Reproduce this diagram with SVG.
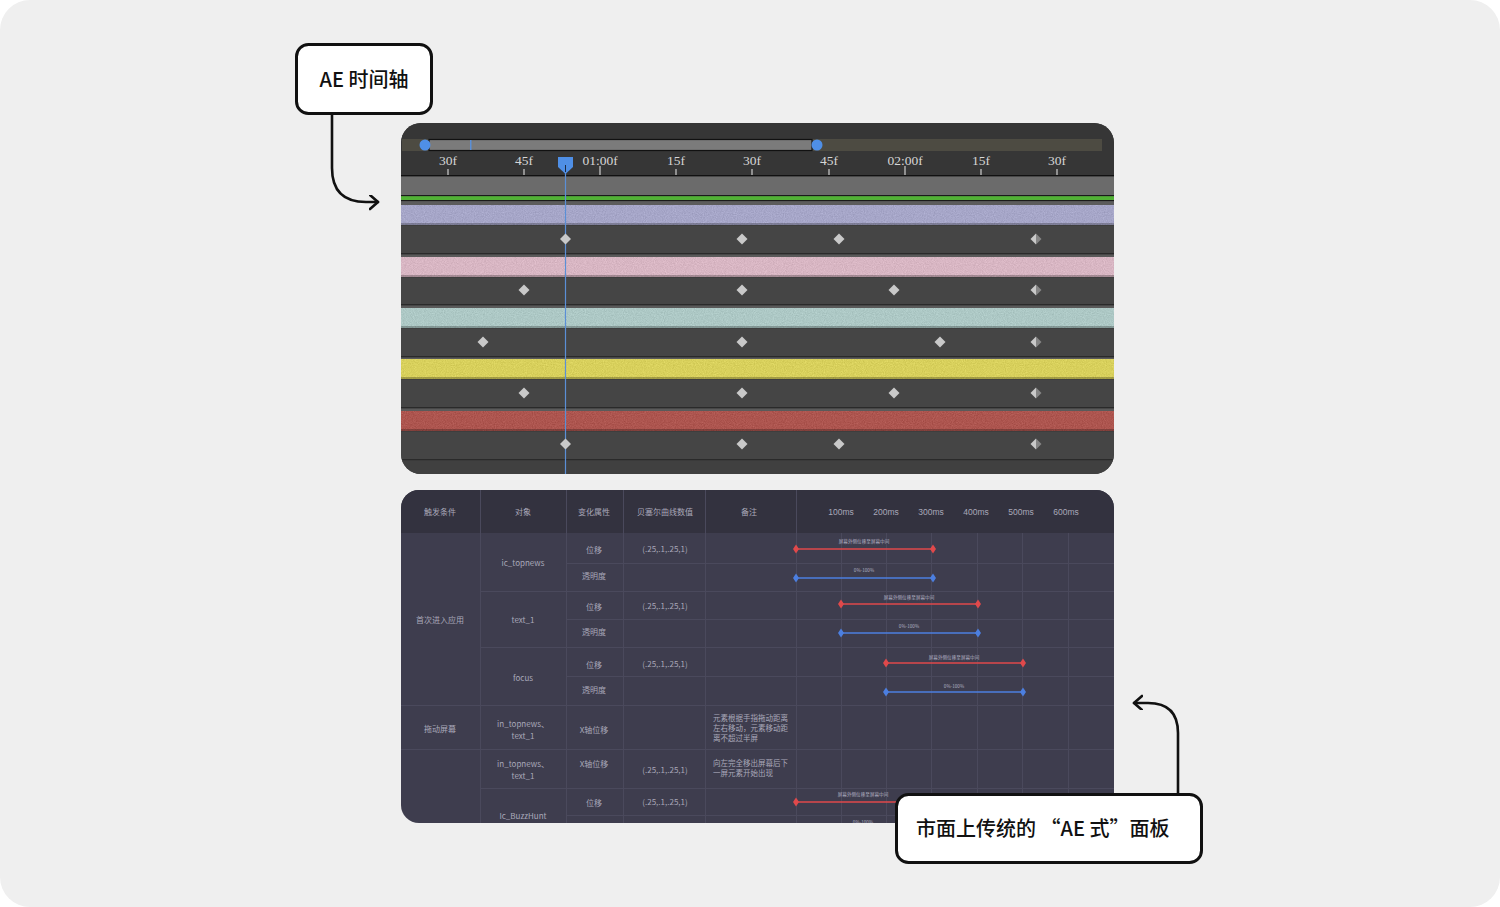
<svg xmlns="http://www.w3.org/2000/svg" width="1500" height="907" viewBox="0 0 1500 907">
<style>
.tl{font-family:"Liberation Serif","DejaVu Serif",serif;font-size:13.5px;fill:#d6d6d6;text-anchor:middle}
.tx{font-family:"Noto Sans CJK SC","Noto Sans",sans-serif;font-size:8px;fill:#a9a8b9;text-anchor:middle}
.txl{font-family:"Noto Sans CJK SC","Noto Sans",sans-serif;font-size:7.5px;fill:#a9a8b9}
.gl{font-family:"Noto Sans CJK SC","Noto Sans",sans-serif;font-size:4.6px;fill:#b3b2c2;text-anchor:middle}
.ms{font-family:"Liberation Sans","Noto Sans",sans-serif;font-size:8.5px;fill:#a9a8b9;text-anchor:middle}
.call{fill:#fff;stroke:#111;stroke-width:3}
.ctext{font-family:"Noto Sans CJK SC","Noto Sans",sans-serif;font-size:20px;font-weight:500;fill:#111}
.conn{fill:none;stroke:#111;stroke-width:2.6;stroke-linecap:round;stroke-linejoin:round}
.dk{fill:#454545}
.sep{fill:#2a2a2a}
.vg{stroke:#4a495c;stroke-width:1}
.hg{stroke:#4a495c;stroke-width:1}
.red{stroke:#e0494b;stroke-width:1.6}
.blue{stroke:#4c7fe0;stroke-width:1.6}
</style>
<defs>
<marker id="arr" markerWidth="12" markerHeight="16" refX="9" refY="7" orient="auto" markerUnits="userSpaceOnUse">
<path d="M1,0 L9,7 L1,14" fill="none" stroke="#111" stroke-width="2.6" stroke-linecap="round" stroke-linejoin="round"/>
</marker>
<path id="kd" d="M0,-5.5 L5.5,0 L0,5.5 L-5.5,0Z" fill="#c9c9c9"/>
<g id="kh"><path d="M0,-5.5 L0,5.5 L-5.5,0Z" fill="#c9c9c9"/><path d="M0,-5.5 L5.5,0 L0,5.5Z" fill="#858585"/></g>
<path id="rd" d="M0,-4.5 L3,0 L0,4.5 L-3,0Z" fill="#e0494b"/>
<path id="bd" d="M0,-4.5 L3,0 L0,4.5 L-3,0Z" fill="#4c7fe0"/>
<clipPath id="tlclip"><rect x="401" y="123" width="713" height="351" rx="20"/></clipPath>
<clipPath id="tbclip"><rect x="401" y="490" width="713" height="333" rx="18"/></clipPath>
<filter id="grain" x="0" y="0" width="100%" height="100%" color-interpolation-filters="sRGB">
<feTurbulence type="fractalNoise" baseFrequency="0.9" numOctaves="2" seed="4" result="t"/>
<feColorMatrix in="t" type="matrix" values="1 0 0 0 0  1 0 0 0 0  1 0 0 0 0  0 0 0 0 1" result="g"/>
<feComposite in="SourceGraphic" in2="g" operator="arithmetic" k1="0" k2="1" k3="0.14" k4="-0.07" result="m"/>
<feComposite in="m" in2="SourceGraphic" operator="in"/>
</filter>
</defs>
<rect width="1500" height="907" fill="#ffffff"/>
<rect width="1500" height="907" rx="30" fill="#efefef"/>

<g id="timeline" clip-path="url(#tlclip)">
<rect x="401" y="123" width="713" height="351" fill="#3e3e3e"/>
<rect x="401" y="123" width="713" height="53" fill="#363636"/>
<rect x="402" y="139" width="700" height="12" fill="#4d4b42"/>
<rect x="429" y="139.5" width="383" height="11" fill="#7b7b7b" stroke="#111" stroke-width="1.2"/>
<rect x="470" y="140" width="1.5" height="10" fill="#5b8fd6"/>
<circle cx="425" cy="145" r="5.5" fill="#4f8fe6"/>
<circle cx="817" cy="145" r="5.5" fill="#4f8fe6"/>
<g>
<text class="tl" x="448" y="165">30f</text>
<text class="tl" x="524" y="165">45f</text>
<text class="tl" x="600" y="165">01:00f</text>
<text class="tl" x="676" y="165">15f</text>
<text class="tl" x="752" y="165">30f</text>
<text class="tl" x="829" y="165">45f</text>
<text class="tl" x="905" y="165">02:00f</text>
<text class="tl" x="981" y="165">15f</text>
<text class="tl" x="1057" y="165">30f</text>
</g>
<g stroke="#cfcfcf" stroke-width="1.2">
<line x1="448" y1="169" x2="448" y2="175"/><line x1="524" y1="169" x2="524" y2="175"/>
<line x1="600" y1="166" x2="600" y2="175"/><line x1="676" y1="169" x2="676" y2="175"/>
<line x1="752" y1="169" x2="752" y2="175"/><line x1="829" y1="169" x2="829" y2="175"/>
<line x1="905" y1="166" x2="905" y2="175"/><line x1="981" y1="169" x2="981" y2="175"/>
<line x1="1057" y1="169" x2="1057" y2="175"/>
</g>
<rect x="401" y="175" width="713" height="1.5" fill="#111"/>
<rect x="401" y="176.5" width="713" height="18.5" fill="#6b6b6b"/>
<rect x="401" y="195" width="713" height="1.2" fill="#1a1a1a"/>
<rect x="401" y="196.2" width="713" height="3.8" fill="#52b236"/>
<rect x="401" y="200" width="713" height="1.2" fill="#1a1a1a"/>
<rect x="401" y="201.2" width="713" height="3.8" fill="#5c5c5c"/>

<rect x="401" y="205" width="713" height="20" fill="#a6a6c8" filter="url(#grain)"/>
<rect x="401" y="223" width="713" height="2" fill="#000" opacity="0.25"/>
<rect class="dk" x="401" y="226" width="713" height="27"/>
<rect class="sep" x="401" y="253" width="713" height="1.5"/>
<rect x="401" y="254.5" width="713" height="2.5" fill="#5a5a5a"/>

<rect x="401" y="257" width="713" height="20" fill="#d8b6c3" filter="url(#grain)"/>
<rect x="401" y="275" width="713" height="2" fill="#000" opacity="0.25"/>
<rect class="dk" x="401" y="278" width="713" height="26"/>
<rect class="sep" x="401" y="304" width="713" height="1.5"/>
<rect x="401" y="305.5" width="713" height="2.5" fill="#5a5a5a"/>

<rect x="401" y="308" width="713" height="20" fill="#adc8c5" filter="url(#grain)"/>
<rect x="401" y="326" width="713" height="2" fill="#000" opacity="0.25"/>
<rect class="dk" x="401" y="329" width="713" height="27"/>
<rect class="sep" x="401" y="356" width="713" height="1.5"/>
<rect x="401" y="357.5" width="713" height="1.5" fill="#5a5a5a"/>

<rect x="401" y="359" width="713" height="20" fill="#d8d05c" filter="url(#grain)"/>
<rect x="401" y="377" width="713" height="2" fill="#000" opacity="0.25"/>
<rect class="dk" x="401" y="380" width="713" height="27"/>
<rect class="sep" x="401" y="407" width="713" height="1.5"/>
<rect x="401" y="408.5" width="713" height="2.5" fill="#5a5a5a"/>

<rect x="401" y="411" width="713" height="20" fill="#ad554f" filter="url(#grain)"/>
<rect x="401" y="429" width="713" height="2" fill="#000" opacity="0.25"/>
<rect class="dk" x="401" y="432" width="713" height="27"/>
<rect class="sep" x="401" y="459" width="713" height="1.5"/>
<rect x="401" y="460.5" width="713" height="14" fill="#404040"/>

<line x1="565.5" y1="165" x2="565.5" y2="474" stroke="#5b8fd6" stroke-width="1.2"/>
<path d="M558,157 L573,157 L573,167 L565.5,174 L558,167Z" fill="#4f8fe6"/>
<line x1="565.5" y1="165" x2="565.5" y2="172" stroke="#1a2a44" stroke-width="1"/>

<use href="#kd" x="565.5" y="239"/><use href="#kd" x="742" y="239"/><use href="#kd" x="839" y="239"/><use href="#kh" x="1036" y="239"/>
<use href="#kd" x="524" y="290"/><use href="#kd" x="742" y="290"/><use href="#kd" x="894" y="290"/><use href="#kh" x="1036" y="290"/>
<use href="#kd" x="483" y="342"/><use href="#kd" x="742" y="342"/><use href="#kd" x="940" y="342"/><use href="#kh" x="1036" y="342"/>
<use href="#kd" x="524" y="393"/><use href="#kd" x="742" y="393"/><use href="#kd" x="894" y="393"/><use href="#kh" x="1036" y="393"/>
<use href="#kd" x="565.5" y="444"/><use href="#kd" x="742" y="444"/><use href="#kd" x="839" y="444"/><use href="#kh" x="1036" y="444"/>
</g>

<g id="table" clip-path="url(#tbclip)">
<rect x="401" y="490" width="713" height="333" fill="#3e3d4e"/>
<rect x="401" y="490" width="713" height="43" fill="#33323f"/>
<g class="vg">
<line x1="480.5" y1="490" x2="480.5" y2="823"/>
<line x1="566.5" y1="490" x2="566.5" y2="823"/>
<line x1="623.5" y1="490" x2="623.5" y2="823"/>
<line x1="705.5" y1="490" x2="705.5" y2="823"/>
<line x1="796.5" y1="490" x2="796.5" y2="823"/>
<line x1="841.5" y1="533" x2="841.5" y2="823"/>
<line x1="886.5" y1="533" x2="886.5" y2="823"/>
<line x1="931.5" y1="533" x2="931.5" y2="823"/>
<line x1="977.5" y1="533" x2="977.5" y2="823"/>
<line x1="1022.5" y1="533" x2="1022.5" y2="823"/>
<line x1="1068.5" y1="533" x2="1068.5" y2="823"/>
</g>
<g class="hg">
<line x1="566" y1="563.5" x2="1114" y2="563.5"/>
<line x1="480" y1="591.5" x2="1114" y2="591.5"/>
<line x1="566" y1="619.5" x2="1114" y2="619.5"/>
<line x1="480" y1="647.5" x2="1114" y2="647.5"/>
<line x1="566" y1="676.5" x2="1114" y2="676.5"/>
<line x1="401" y1="705.5" x2="1114" y2="705.5"/>
<line x1="401" y1="749.5" x2="1114" y2="749.5"/>
<line x1="480" y1="788.5" x2="1114" y2="788.5"/>
<line x1="566" y1="815.5" x2="1114" y2="815.5"/>
</g>
<text class="tx" x="440" y="515">触发条件</text>
<text class="tx" x="523" y="515">对象</text>
<text class="tx" x="594" y="515">变化属性</text>
<text class="tx" x="665" y="515">贝塞尔曲线数值</text>
<text class="tx" x="749" y="515">备注</text>
<text class="ms" x="841" y="515">100ms</text>
<text class="ms" x="886" y="515">200ms</text>
<text class="ms" x="931" y="515">300ms</text>
<text class="ms" x="976" y="515">400ms</text>
<text class="ms" x="1021" y="515">500ms</text>
<text class="ms" x="1066" y="515">600ms</text>

<text class="tx" x="440" y="623">首次进入应用</text>
<text class="tx" x="523" y="566">ic_topnews</text>
<text class="tx" x="594" y="553">位移</text>
<text class="tx" x="665" y="552">(.25,.1,.25,1)</text>
<text class="tx" x="594" y="579">透明度</text>
<text class="tx" x="523" y="623">text_1</text>
<text class="tx" x="594" y="610">位移</text>
<text class="tx" x="665" y="609">(.25,.1,.25,1)</text>
<text class="tx" x="594" y="635">透明度</text>
<text class="tx" x="523" y="681">focus</text>
<text class="tx" x="594" y="668">位移</text>
<text class="tx" x="665" y="667">(.25,.1,.25,1)</text>
<text class="tx" x="594" y="693">透明度</text>

<text class="tx" x="440" y="732">拖动屏幕</text>
<text class="tx" x="523" y="727">in_topnews、</text>
<text class="tx" x="523" y="739">text_1</text>
<text class="tx" x="594" y="733">X轴位移</text>
<text class="txl" x="713" y="721">元素根据手指拖动距离</text>
<text class="txl" x="713" y="731">左右移动，元素移动距</text>
<text class="txl" x="713" y="741">离不超过半屏</text>

<text class="tx" x="523" y="767">in_topnews、</text>
<text class="tx" x="523" y="779">text_1</text>
<text class="tx" x="594" y="767">X轴位移</text>
<text class="tx" x="665" y="773">(.25,.1,.25,1)</text>
<text class="txl" x="713" y="766">向左完全移出屏幕后下</text>
<text class="txl" x="713" y="776">一屏元素开始出现</text>

<text class="tx" x="594" y="806">位移</text>
<text class="tx" x="665" y="805">(.25,.1,.25,1)</text>
<text class="tx" x="523" y="819">Ic_BuzzHunt</text>

<line class="red" x1="796" y1="549" x2="933" y2="549"/><use href="#rd" x="796" y="549"/><use href="#rd" x="933" y="549"/>
<text class="gl" x="864" y="543">屏幕外侧位移至屏幕中间</text>
<line class="blue" x1="796" y1="578" x2="933" y2="578"/><use href="#bd" x="796" y="578"/><use href="#bd" x="933" y="578"/>
<text class="gl" x="864" y="572">0%-100%</text>
<line class="red" x1="841" y1="604" x2="978" y2="604"/><use href="#rd" x="841" y="604"/><use href="#rd" x="978" y="604"/>
<text class="gl" x="909" y="599">屏幕外侧位移至屏幕中间</text>
<line class="blue" x1="841" y1="633" x2="978" y2="633"/><use href="#bd" x="841" y="633"/><use href="#bd" x="978" y="633"/>
<text class="gl" x="909" y="628">0%-100%</text>
<line class="red" x1="886" y1="663" x2="1023" y2="663"/><use href="#rd" x="886" y="663"/><use href="#rd" x="1023" y="663"/>
<text class="gl" x="954" y="659">屏幕外侧位移至屏幕中间</text>
<line class="blue" x1="886" y1="692" x2="1023" y2="692"/><use href="#bd" x="886" y="692"/><use href="#bd" x="1023" y="692"/>
<text class="gl" x="954" y="688">0%-100%</text>
<line class="red" x1="796" y1="802" x2="933" y2="802"/><use href="#rd" x="796" y="802"/>
<text class="gl" x="863" y="796">屏幕外侧位移至屏幕中间</text>
<text class="gl" x="863" y="824">0%-100%</text>
</g>

<g id="connectors">
<path class="conn" d="M332,114 L332,168 Q332,202 366,202 L378,202" marker-end="url(#arr)"/>
<path class="conn" d="M1178,794 L1178,733 Q1178,703 1148,703 L1134,703" marker-end="url(#arr)"/>
</g>

<g id="callout-ae">
<rect class="call" x="296.5" y="44.5" width="135" height="69" rx="12"/>
<text class="ctext" x="364" y="87" text-anchor="middle">AE 时间轴</text>
</g>
<g id="callout-panel">
<rect class="call" x="896.5" y="794.5" width="305" height="68" rx="12"/>
<text class="ctext" x="916" y="836">市面上传统的 “AE 式”面板</text>
</g>
</svg>
